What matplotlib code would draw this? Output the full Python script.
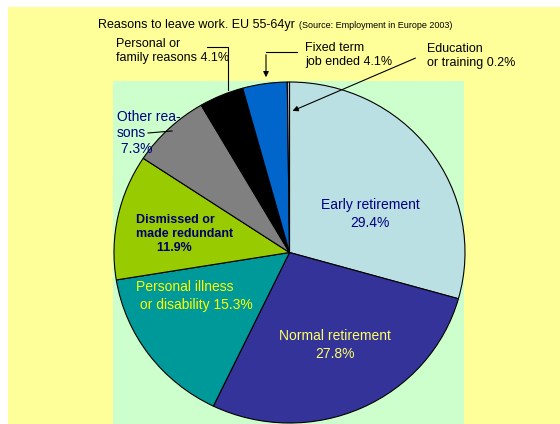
import matplotlib
matplotlib.use('Agg')
import matplotlib.pyplot as plt
from matplotlib.patches import Rectangle

plt.rcParams['font.family'] = ['Liberation Sans', 'DejaVu Sans']

# Data (share of people aged 55-64 leaving work, %)
reasons = ['Early retirement', 'Normal retirement', 'Personal illness or disability',
           'Dismissed or made redundant', 'Other reasons', 'Personal or family reasons',
           'Fixed term job ended', 'Education or training']
shares = [29.4, 27.8, 15.3, 11.9, 7.3, 4.1, 4.1, 0.2]
colors = ['#BBE0E3', '#333399', '#009999', '#99CC00', '#808080', '#000000', '#0066CC', '#C0C0C0']

W, H = 560, 424
fig = plt.figure(figsize=(W / 100, H / 100), dpi=100)
fig.patch.set_facecolor('white')

# background in pixel coordinates
bg = fig.add_axes([0, 0, 1, 1], zorder=0)
bg.set_xlim(0, W)
bg.set_ylim(H, 0)
bg.axis('off')
bg.add_patch(Rectangle((8, 7), W - 8, H - 7, facecolor='#FFFF99', edgecolor='none'))
bg.add_patch(Rectangle((113, 81), 351, H - 81, facecolor='#CCFFCC', edgecolor='none'))

# pie (slightly elliptical like the original)
cx, cy, rx, ry = 289.5, 252.5, 175.5, 170.5
pax = fig.add_axes([(cx - rx) / W, (H - cy - ry) / H, 2 * rx / W, 2 * ry / H], zorder=1)
pax.pie(shares, colors=colors, startangle=90, counterclock=False, radius=1,
        wedgeprops=dict(edgecolor='black', linewidth=0.8))
pax.set_aspect('auto')
pax.set_xlim(-1, 1)
pax.set_ylim(-1, 1)
pax.axis('off')

# labels and leader lines in pixel coordinates
ov = fig.add_axes([0, 0, 1, 1], zorder=2)
ov.set_xlim(0, W)
ov.set_ylim(H, 0)
ov.axis('off')
ov.patch.set_alpha(0)

ov.text(98, 25, 'Reasons to leave work. EU 55-64yr', fontsize=9, va='center')
ov.text(299, 26, '(Source: Employment in Europe 2003)', fontsize=6.5, va='center')

navy = '#000080'
ov.text(370, 214, f'Early retirement\n{shares[0]}%', fontsize=10, color=navy,
        ha='center', va='center', linespacing=1.3)
ov.text(335, 345, f'Normal retirement\n{shares[1]}%', fontsize=10, color='#FFFF66',
        ha='center', va='center', linespacing=1.3)
ov.text(136, 296, f'Personal illness\n or disability {shares[2]}%', fontsize=10,
        color='#FFFF00', ha='left', va='center', linespacing=1.3)
ov.text(136, 234, f'Dismissed or\nmade redundant\n      {shares[3]}%', fontsize=9,
        fontweight='bold', color='#000066', ha='left', va='center', linespacing=1.2)
ov.text(117, 133, f'Other rea-\nsons\n {shares[4]}%', fontsize=10, color=navy,
        ha='left', va='center', linespacing=1.2)
ov.plot([148, 172], [133, 131], color='black', lw=0.8)

ov.text(116, 51, f'Personal or\nfamily reasons {shares[5]}%', fontsize=9,
        ha='left', va='center', linespacing=1.2)
ov.plot([207, 228, 228], [47, 47, 90], color='black', lw=0.8)

ov.text(305, 55, f'Fixed term\njob ended {shares[6]}%', fontsize=9,
        ha='left', va='center', linespacing=1.2)
ov.annotate('', xy=(266, 80), xytext=(266, 52),
            arrowprops=dict(arrowstyle='-|>', color='black', lw=0.8, mutation_scale=8))
ov.plot([266, 297], [52, 52], color='black', lw=0.8)

ov.text(427, 56, f'Education\nor training {shares[7]}%', fontsize=9,
        ha='left', va='center', linespacing=1.2)
ov.annotate('', xy=(290, 112), xytext=(418, 57),
            arrowprops=dict(arrowstyle='-|>', color='black', lw=0.8, mutation_scale=8))

fig.savefig('out.png', dpi=100)
